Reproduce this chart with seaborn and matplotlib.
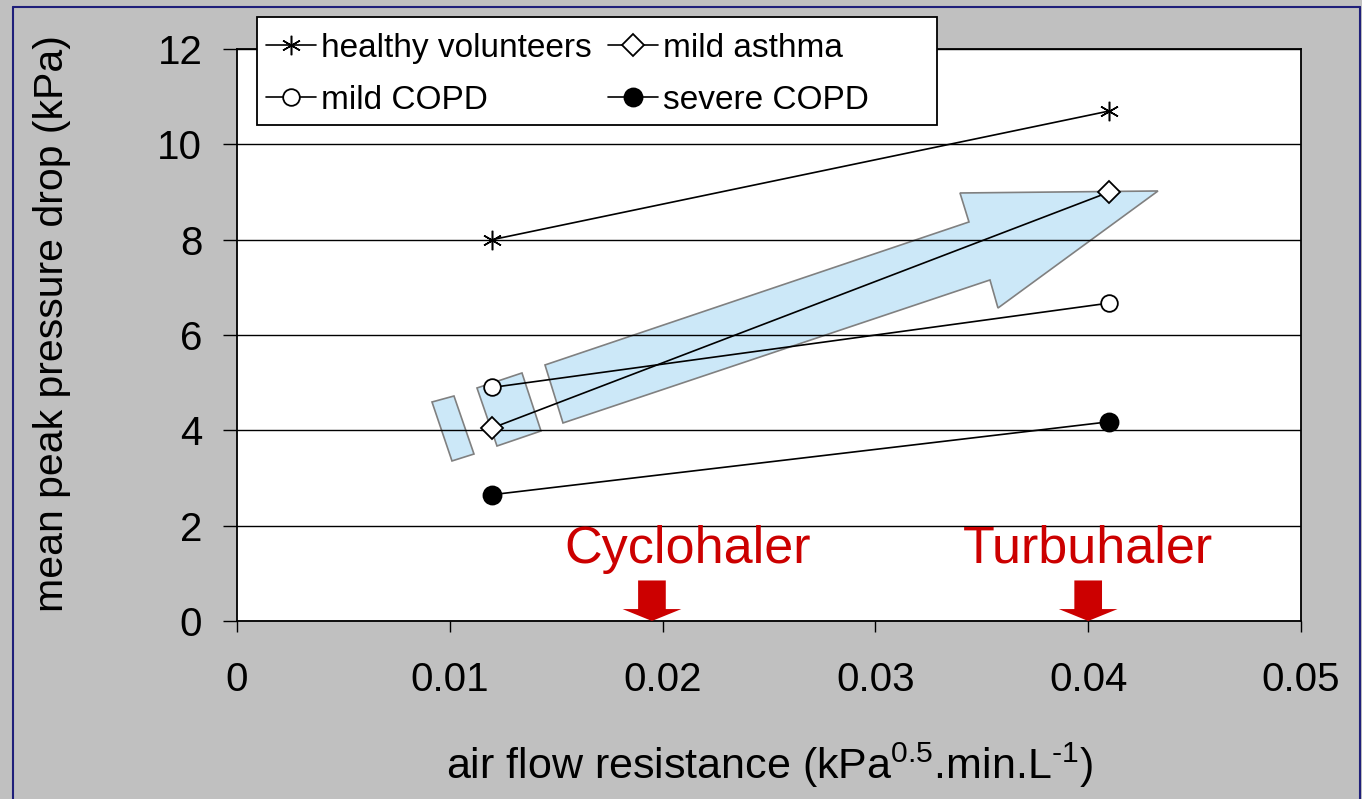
import matplotlib
matplotlib.use("Agg")
import matplotlib.pyplot as plt
import seaborn as sns
import pandas as pd
from matplotlib.patches import Polygon, Rectangle
from matplotlib.lines import Line2D

# ---- data ----
resistance = [0.012, 0.041]
groups = ['healthy volunteers', 'mild asthma', 'mild COPD', 'severe COPD']
healthy = [8.0, 10.7]
asthma = [4.05, 9.0]
copd_mild = [4.9, 6.67]
copd_severe = [2.65, 4.18]
x_ticks = [0, 0.01, 0.02, 0.03, 0.04, 0.05]
x_ticklabels = ['0', '0.01', '0.02', '0.03', '0.04', '0.05']
y_ticks = [0, 2, 4, 6, 8, 10, 12]
inhalers = ['Cyclohaler', 'Turbuhaler']
inhaler_x = [0.0195, 0.0400]
inhaler_label_x = [0.0212, 0.0400]

df = pd.DataFrame({
    'resistance': resistance * 4,
    'pressure': healthy + asthma + copd_mild + copd_severe,
    'group': [g for g in groups for _ in resistance],
})

# marker style per group
styles = {
    'healthy volunteers': dict(marker=(6, 2, 0), markersize=14, markerfacecolor='black', markeredgewidth=1.1),
    'mild asthma': dict(marker='D', markersize=11, markerfacecolor='white', markeredgewidth=1.3),
    'mild COPD': dict(marker='o', markersize=12, markerfacecolor='white', markeredgewidth=1.3),
    'severe COPD': dict(marker='o', markersize=13, markerfacecolor='black', markeredgewidth=1.3),
}

sns.set_style('white')
plt.rcParams['font.family'] = ['Liberation Sans', 'DejaVu Sans']
plt.rcParams['mathtext.fontset'] = 'custom'
plt.rcParams['mathtext.rm'] = 'Liberation Sans'
plt.rcParams['mathtext.default'] = 'regular'
for key in ['text.color', 'axes.labelcolor', 'xtick.color', 'ytick.color']:
    plt.rcParams[key] = 'black'

fig = plt.figure(figsize=(13.62, 7.99), dpi=100, facecolor='#C0C0C0')
ax = fig.add_axes([0.174, 0.2228, 0.7812, 0.7159])
ax.set_facecolor('white')

for g in groups:
    sub = df[df['group'] == g]
    sns.lineplot(data=sub, x='resistance', y='pressure', ax=ax, color='black',
                 linewidth=1.2, label=g, markeredgecolor='black', zorder=3, **styles[g])

# ---- light blue trend arrow (annotation shape) ----
blue_kw = dict(closed=True, facecolor='#CCE8F8', edgecolor='#808080', linewidth=1.2, zorder=0.3)
big_arrow = [(0.014474, 5.371), (0.034398, 8.371), (0.033976, 8.979), (0.043280, 9.021),
             (0.035761, 6.566), (0.035385, 7.154), (0.015320, 4.154)]
dash1 = [(0.009164, 4.594), (0.010197, 4.720), (0.011137, 3.503), (0.010103, 3.357)]
dash2 = [(0.011278, 4.888), (0.013393, 5.203), (0.014286, 3.986), (0.012218, 3.671)]
for verts in [big_arrow, dash1, dash2]:
    ax.add_patch(Polygon(verts, **blue_kw))

# ---- red markers for the inhalers ----
red = '#CC0000'
for name, xc, xt in zip(inhalers, inhaler_x, inhaler_label_x):
    shaft = 0.00065
    head = 0.00138
    arrow = [(xc - shaft, 0.85), (xc + shaft, 0.85), (xc + shaft, 0.25), (xc + head, 0.25),
             (xc, 0.0), (xc - head, 0.25), (xc - shaft, 0.25)]
    ax.add_patch(Polygon(arrow, closed=True, facecolor=red, edgecolor='none', zorder=4))
    ax.text(xt, 1.22, name, color=red, fontsize=37.5, ha='center', va='baseline', zorder=4)

ax.set_xlim(0, 0.05)
ax.set_ylim(0, 12)
ax.set_xticks(x_ticks)
ax.set_xticklabels(x_ticklabels)
ax.set_yticks(y_ticks)
ax.set_axisbelow(True)
ax.yaxis.grid(True, color='black', linewidth=1.0)
ax.xaxis.grid(False)
for s in ax.spines.values():
    s.set_color('black')
    s.set_linewidth(1.3)
ax.tick_params(axis='y', direction='out', length=10, width=1, pad=15, labelsize=29, left=True)
ax.tick_params(axis='x', direction='out', length=8, width=1, pad=21, labelsize=29, bottom=True)

ax.set_xlabel(r'air flow resistance (kPa$^{0.5}$.min.L$^{\text{-1}}$)', fontsize=31, labelpad=30)
ax.set_ylabel('mean peak pressure drop (kPa)', fontsize=29.5, labelpad=62)
ax.yaxis.label.set_y(0.52)

# legend: row 1 healthy / mild asthma, row 2 mild COPD / severe COPD
handles, labels = ax.get_legend_handles_labels()
ax.get_legend().remove()
order = [0, 2, 1, 3]
fig.add_artist(Rectangle((257 / 1362, 1 - 125 / 799), 680 / 1362, 108 / 799,
                         transform=fig.transFigure, facecolor='white', edgecolor='black',
                         linewidth=1.3, zorder=2))
leg = fig.legend([handles[i] for i in order], [labels[i] for i in order], ncol=2,
                 loc='upper left', bbox_to_anchor=(266 / 1362, 1 - 33 / 799),
                 borderaxespad=0, borderpad=0, fontsize=24, frameon=False,
                 handlelength=1.5, handletextpad=0.15, columnspacing=0.5,
                 labelspacing=0.62)
leg.set_zorder(5)

# navy border around the figure
for xs, ys in [([13 / 1362, 13 / 1362], [0, 1 - 7 / 799]),
               ([13 / 1362, 1360 / 1362], [1 - 7 / 799, 1 - 7 / 799]),
               ([1360 / 1362, 1360 / 1362], [0, 1 - 7 / 799])]:
    fig.add_artist(Line2D(xs, ys, color='#1F1F7A', linewidth=1.5, transform=fig.transFigure))

fig.savefig('out.png', dpi=100, facecolor=fig.get_facecolor())
